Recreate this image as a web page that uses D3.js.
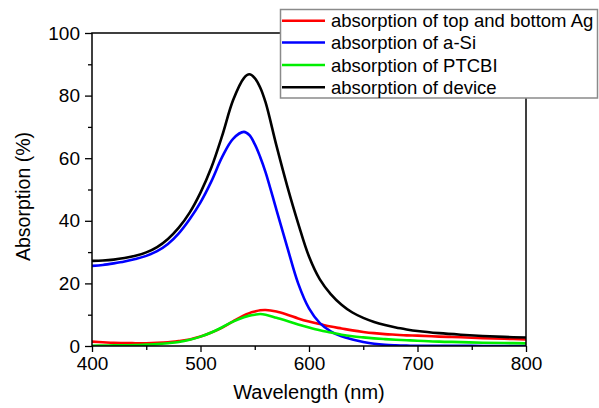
<!DOCTYPE html>
<html>
<head>
<meta charset="utf-8">
<script src="https://cdn.jsdelivr.net/npm/d3@7"></script>
<style>
  html, body { margin: 0; padding: 0; background: #fff; }
  svg { display: block; }
  text { font-family: "Liberation Sans", Arial, sans-serif; fill: #000; }
</style>
</head>
<body>
<svg id="chart" width="599" height="408"></svg>
<script>
// Wavelength grid (nm)
const wavelength = [400,410,420,430,440,450,460,470,480,490,500,510,520,530,540,545,550,555,560,570,580,590,600,610,620,630,640,650,660,670,680,690,700,720,740,760,780,800];

// Absorption (%) of each layer and of the whole device
const agAbs = [1.4,1.2,1.0,0.95,0.9,0.9,1.0,1.2,1.6,2.1,3.0,4.3,5.9,7.9,9.8,10.5,11.0,11.4,11.5,11.0,10.0,8.8,7.8,7.0,6.2,5.6,5.0,4.5,4.1,3.8,3.6,3.4,3.3,3.0,2.8,2.5,2.3,2.1];
const aSiAbs = [25.6,25.9,26.4,27.0,27.8,28.8,30.3,32.6,36.0,40.5,45.9,52.6,60.4,66.2,68.4,67.4,64.5,60.4,55.5,43.5,31.5,20.0,12.0,7.3,4.7,3.1,2.1,1.3,0.7,0.35,0.2,0.12,0.08,0.05,0.03,0.02,0.01,0.0];
const ptcbiAbs = [0.1,0.15,0.2,0.25,0.3,0.45,0.6,0.9,1.3,2.0,3.0,4.3,6.0,7.8,9.2,9.7,10.0,10.2,10.0,9.0,8.0,6.9,5.9,5.0,4.3,3.6,3.1,2.75,2.45,2.2,2.0,1.85,1.7,1.4,1.25,1.05,0.95,0.85];
const deviceAbs = [27.2,27.3,27.6,28.1,28.8,29.9,31.6,34.2,37.8,42.6,49.0,57.0,67.2,78.5,85.6,86.8,85.6,82.6,77.8,64.0,51.0,39.2,28.6,21.3,16.6,13.2,10.7,9.0,7.7,6.7,5.9,5.3,4.8,4.1,3.6,3.2,2.9,2.7];

const seriesNames = ["absorption of top and bottom Ag", "absorption of a-Si", "absorption of PTCBI", "absorption of device"];
const seriesColors = ["#ff0000", "#0000ff", "#00ee00", "#000000"];
const seriesValues = [agAbs, aSiAbs, ptcbiAbs, deviceAbs];

const xMajorTicks = [400, 500, 600, 700, 800];
const xMinorTicks = [450, 550, 650, 750];
const yMajorTicks = [0, 20, 40, 60, 80, 100];
const yMinorTicks = [10, 30, 50, 70, 90];

const svg = d3.select("#chart");
const plotLeft = 92, plotRight = 526, plotTop = 33, plotBottom = 346;

const x = d3.scaleLinear().domain([400, 800]).range([plotLeft, plotRight]);
const y = d3.scaleLinear().domain([0, 100]).range([plotBottom, plotTop]);

svg.append("defs").append("clipPath").attr("id", "plotClip")
  .append("rect").attr("x", plotLeft).attr("y", plotTop)
  .attr("width", plotRight - plotLeft).attr("height", plotBottom - plotTop);

// Curves
const line = d3.line()
  .x(d => x(d[0]))
  .y(d => y(d[1]))
  .curve(d3.curveCatmullRom.alpha(0.5));

const curves = svg.append("g").attr("clip-path", "url(#plotClip)");
seriesValues.forEach((vals, i) => {
  curves.append("path")
    .datum(wavelength.map((w, k) => [w, vals[k]]))
    .attr("d", line)
    .attr("fill", "none")
    .attr("stroke", seriesColors[i])
    .attr("stroke-width", 2.6)
    .attr("stroke-linejoin", "round");
});

// Frame
svg.append("rect")
  .attr("x", plotLeft).attr("y", plotTop)
  .attr("width", plotRight - plotLeft).attr("height", plotBottom - plotTop)
  .attr("fill", "none").attr("stroke", "#000").attr("stroke-width", 1.5);

// Axes
const fontSize = "19px";
svg.append("g").attr("transform", `translate(0,${plotBottom})`)
  .call(d3.axisBottom(x).tickValues(xMajorTicks).tickSize(6).tickPadding(5).tickFormat(d3.format("d")));
svg.append("g").attr("transform", `translate(0,${plotBottom})`)
  .call(d3.axisBottom(x).tickValues(xMinorTicks).tickSize(4).tickFormat(""));
svg.append("g").attr("transform", `translate(${plotLeft},0)`)
  .call(d3.axisLeft(y).tickValues(yMajorTicks).tickSize(7).tickPadding(5).tickFormat(d3.format("d")));
svg.append("g").attr("transform", `translate(${plotLeft},0)`)
  .call(d3.axisLeft(y).tickValues(yMinorTicks).tickSize(4).tickFormat(""));

svg.selectAll(".domain").remove();
svg.selectAll(".tick line").attr("stroke", "#000").attr("stroke-width", 1.3);
svg.selectAll(".tick text").style("font-size", fontSize).attr("font-family", "Liberation Sans, Arial, sans-serif").attr("fill", "#000");

// Axis titles
svg.append("text")
  .attr("x", (plotLeft + plotRight) / 2).attr("y", 399)
  .attr("text-anchor", "middle")
  .style("font-size", "20px")
  .text("Wavelength (nm)");

svg.append("text")
  .attr("transform", `translate(30,${(plotTop + plotBottom) / 2 + 7}) rotate(-90)`)
  .attr("text-anchor", "middle")
  .style("font-size", "19.5px")
  .text("Absorption (%)");

// Legend
const legend = svg.append("g");
legend.append("rect")
  .attr("x", 280.5).attr("y", 9.5).attr("width", 317).attr("height", 88.5)
  .attr("fill", "#fff").attr("stroke", "#8a8a8a").attr("stroke-width", 1.5);
const rowY = [20.7, 42.5, 65, 87.3];
seriesNames.forEach((name, i) => {
  legend.append("line")
    .attr("x1", 282).attr("x2", 325)
    .attr("y1", rowY[i]).attr("y2", rowY[i])
    .attr("stroke", seriesColors[i]).attr("stroke-width", 2.6);
  legend.append("text")
    .attr("x", 331).attr("y", rowY[i] + 6.6)
    .style("font-size", "18.5px")
    .text(name);
});
</script>
</body>
</html>
